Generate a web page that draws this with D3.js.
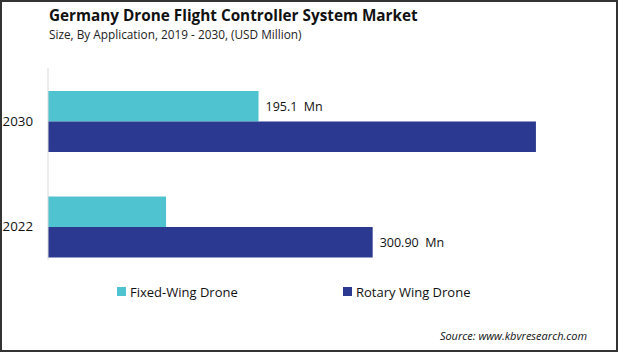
<!DOCTYPE html>
<html>
<head>
<meta charset="utf-8">
<script src="https://cdn.jsdelivr.net/npm/d3@7"></script>
<style>
  body { margin: 0; background: #fff; }
  svg { display: block; font-family: "Open Sans", "Noto Sans", sans-serif; }
</style>
</head>
<body>
<svg width="619" height="354"></svg>
<script>
const years = ["2030", "2022"];
const seriesNames = ["Fixed-Wing Drone", "Rotary Wing Drone"];
const fixedWing = [195.1, 109.4];
const rotaryWing = [452.2, 300.9];
const labelText = ["195.1  Mn", "300.90  Mn"]; // shown on 2030 fixed, 2022 rotary
const colors = ["#4fc3cf", "#2b3990"];

const svg = d3.select("svg");

// frame
svg.append("rect")
  .attr("x", 1).attr("y", 1)
  .attr("width", 616).attr("height", 350)
  .attr("fill", "none")
  .attr("stroke", "#333")
  .attr("stroke-width", 2);

// titles
svg.append("text")
  .attr("x", 49).attr("y", 21)
  .attr("font-size", 15.3)
  .attr("font-weight", "bold")
  .attr("fill", "#111")
  .text("Germany Drone Flight Controller System Market");
svg.append("text")
  .attr("x", 49).attr("y", 39)
  .attr("font-size", 11.8)
  .attr("fill", "#222")
  .text("Size, By Application, 2019 - 2030, (USD Million)");

const left = 48;
const x = d3.scaleLinear().domain([0, 100]).range([0, 107.9]);

const y0 = d3.scaleBand()
  .domain(years)
  .range([69.9, 278.6])
  .paddingInner(0.422)
  .paddingOuter(0.2);

const y1 = d3.scaleBand()
  .domain(seriesNames)
  .range([0, y0.bandwidth()]);

const rows = years.map((yr, i) => ({
  year: yr,
  values: [fixedWing[i], rotaryWing[i]]
}));

const g = svg.append("g").attr("transform", `translate(${left},0)`);

const groups = g.selectAll(".grp")
  .data(rows)
  .enter().append("g")
  .attr("transform", d => `translate(0,${y0(d.year)})`);

groups.selectAll("rect")
  .data(d => d.values.map((v, j) => ({ key: seriesNames[j], value: v, j })))
  .enter().append("rect")
  .attr("x", 0)
  .attr("y", d => y1(d.key))
  .attr("width", d => x(d.value))
  .attr("height", y1.bandwidth())
  .attr("fill", d => colors[d.j]);

// value labels
const labelled = [
  { year: years[0], key: seriesNames[0], value: fixedWing[0], text: labelText[0] },
  { year: years[1], key: seriesNames[1], value: rotaryWing[1], text: labelText[1] }
];
g.selectAll(".vlab")
  .data(labelled)
  .enter().append("text")
  .attr("x", d => x(d.value) + 7)
  .attr("y", d => y0(d.year) + y1(d.key) + y1.bandwidth() / 2)
  .attr("dy", "0.35em")
  .attr("font-size", 12.5)
  .attr("fill", "#111")
  .style("white-space", "pre")
  .text(d => d.text);

// y axis
const yAxis = d3.axisLeft(y0).tickSize(0).tickPadding(15);
const gy = g.append("g").call(yAxis);
gy.select(".domain").remove();
gy.selectAll("text")
  .attr("font-size", 13.3)
  .attr("font-family", "Open Sans, Noto Sans, sans-serif")
  .attr("fill", "#111");
g.append("line")
  .attr("x1", 0).attr("x2", 0)
  .attr("y1", 68)
  .attr("y2", y0(years[1]) + y0.bandwidth() + 2)
  .attr("stroke", "#d9d9d9");

// legend
const legendX = [117, 343];
const legend = svg.selectAll(".leg")
  .data(seriesNames)
  .enter().append("g")
  .attr("transform", (d, i) => `translate(${legendX[i]},287)`);
legend.append("rect")
  .attr("width", 9).attr("height", 9)
  .attr("fill", (d, i) => colors[i]);
legend.append("text")
  .attr("x", 13).attr("y", 5)
  .attr("dy", "0.35em")
  .attr("font-size", 13)
  .attr("fill", "#111")
  .text(d => d);

// source
svg.append("text")
  .attr("x", 587).attr("y", 340)
  .attr("text-anchor", "end")
  .attr("font-size", 11)
  .attr("font-style", "italic")
  .attr("fill", "#111")
  .text("Source: www.kbvresearch.com");
</script>
</body>
</html>
